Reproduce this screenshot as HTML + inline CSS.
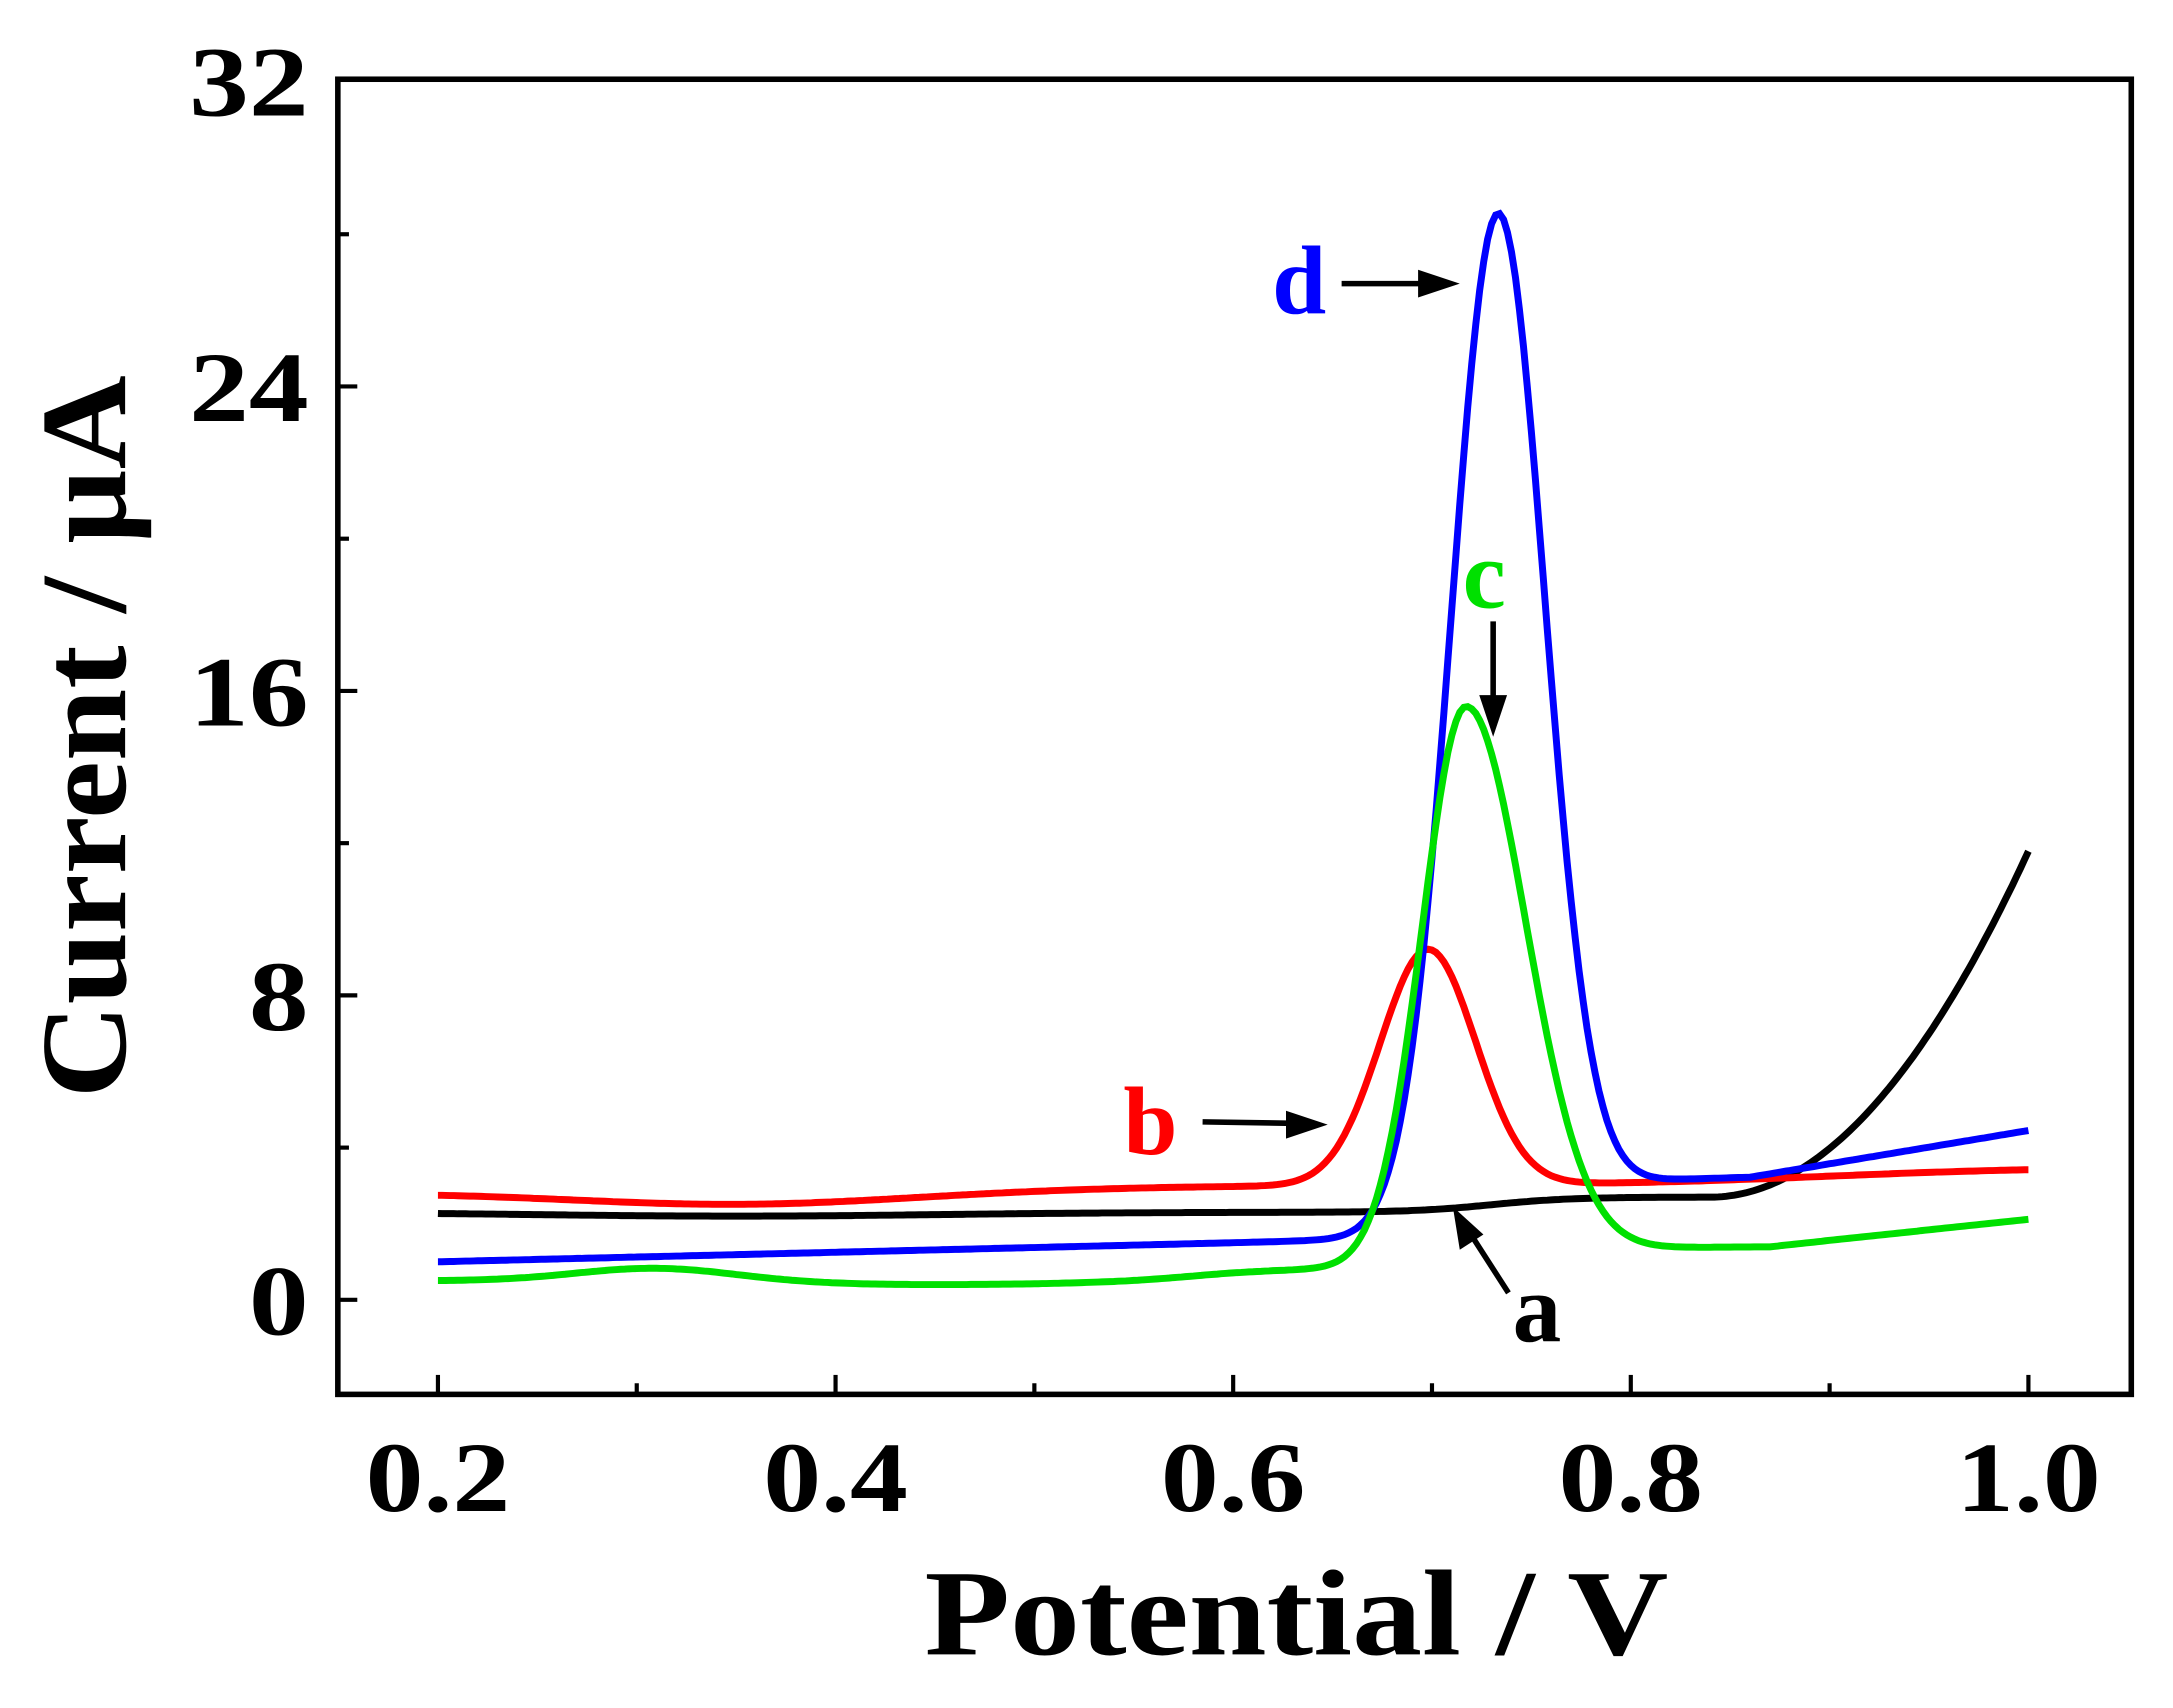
<!DOCTYPE html>
<html><head><style>html,body{margin:0;padding:0;background:#fff}</style></head>
<body>
<svg id="s" width="2173" height="1703" viewBox="0 0 1563 1225" preserveAspectRatio="none" xmlns="http://www.w3.org/2000/svg" font-family="Liberation Serif, serif" font-weight="bold">
<rect x="243" y="57" width="1290" height="946" fill="none" stroke="#000" stroke-width="4"/>
<g id="ticks" stroke="#000" stroke-width="3"></g>
<g font-size="72" text-anchor="end">
<text x="222" y="83" textLength="86" lengthAdjust="spacingAndGlyphs">32</text>
<text x="222" y="303" textLength="86" lengthAdjust="spacingAndGlyphs">24</text>
<text x="222" y="522" textLength="86" lengthAdjust="spacingAndGlyphs">16</text>
<text x="222" y="741" textLength="43" lengthAdjust="spacingAndGlyphs">8</text>
<text x="222" y="960" textLength="43" lengthAdjust="spacingAndGlyphs">0</text>
</g>
<g font-size="72" text-anchor="middle">
<text x="315" y="1087" textLength="104" lengthAdjust="spacingAndGlyphs">0.2</text>
<text x="601" y="1087" textLength="104" lengthAdjust="spacingAndGlyphs">0.4</text>
<text x="887" y="1087" textLength="104" lengthAdjust="spacingAndGlyphs">0.6</text>
<text x="1173" y="1087" textLength="104" lengthAdjust="spacingAndGlyphs">0.8</text>
<text x="1459" y="1087" textLength="104" lengthAdjust="spacingAndGlyphs">1.0</text>
</g>
<text x="665" y="1190" font-size="88" textLength="535" lengthAdjust="spacingAndGlyphs">Potential / V</text>
<text transform="translate(90,790) rotate(-90)" font-size="88" textLength="520" lengthAdjust="spacingAndGlyphs">Current / µA</text>
<g id="curves" fill="none" stroke-width="5"></g>
<g font-size="70">
<text x="915" y="225" fill="#0000ff">d</text>
<text x="1052" y="437" fill="#00e000">c</text>
<text x="808" y="830" fill="#ff0000">b</text>
<text x="1088" y="965" fill="#000">a</text>
</g>
<g stroke="#000" stroke-width="4" fill="#000">
<line x1="965" y1="204" x2="1025" y2="204"/><polygon points="1050,204 1020,194 1020,214" stroke="none"/>
<line x1="1074" y1="447" x2="1074" y2="505"/><polygon points="1074,530 1064,500 1084,500" stroke="none"/>
<line x1="865" y1="807" x2="930" y2="808"/><polygon points="955,809 925,799 925,819" stroke="none"/>
<line x1="1085" y1="930" x2="1058" y2="888"/><polygon points="1045,868 1050,899 1067,888" stroke="none"/>
</g>
</svg>
<script>
const X=v=>315+(v-0.2)*1430, Y=i=>935-i*27.375;
const sig=(v,c,w)=>1/(1+Math.exp(-(v-c)/w));
const g=(v,c,s)=>Math.exp(-0.5*((v-c)/s)**2);
const f={
 "#000":v=>2.3-0.1*g(v,0.35,0.1)+0.4*sig(v,0.73,0.02)+(v>0.84?355*(v-0.84)**2:0),
 "#ff0000":v=>2.8-0.3*g(v,0.35,0.08)+0.2*sig(v,0.5,0.05)+6.2*g(v,0.698,0.024)+0.5*sig(v,0.9,0.06),
 "#0000ff":v=>1.0+0.5*(v-0.2)/0.4+1.4*sig(v,0.74,0.02)+26.3*g(v,0.733,0.0235)+(v>0.86?(v-0.86)*7.5:0),
 "#00e000":v=>0.5+0.35*g(v,0.31,0.04)-0.1*g(v,0.45,0.08)+0.3*sig(v,0.58,0.02)+0.6*sig(v,0.74,0.03)+14.6*(v<0.717?g(v,0.717,0.022):g(v,0.717,0.03))+(v>0.87?(v-0.87)*5.5:0)
};
let h="";
for(const c in f){let d="";for(let v=0.2;v<=1.0001;v+=0.002){d+=(d?"L":"M")+X(v).toFixed(1)+","+Y(f[c](v)).toFixed(1);}h+=`<path d="${d}" stroke="${c}"/>`;}
document.getElementById("curves").innerHTML=h;
let t="";
for(let k=0;k<=8;k++){const x=X(0.2+k*0.1);t+=`<line x1="${x}" y1="1003" x2="${x}" y2="${1003-(k%2?8:14)}"/>`;}
for(let k=0;k<=7;k++){const y=Y(k*4);t+=`<line x1="243" y1="${y}" x2="${243+(k%2?8:14)}" y2="${y}"/>`;}
document.getElementById("ticks").innerHTML=t;
</script>
</body></html>
